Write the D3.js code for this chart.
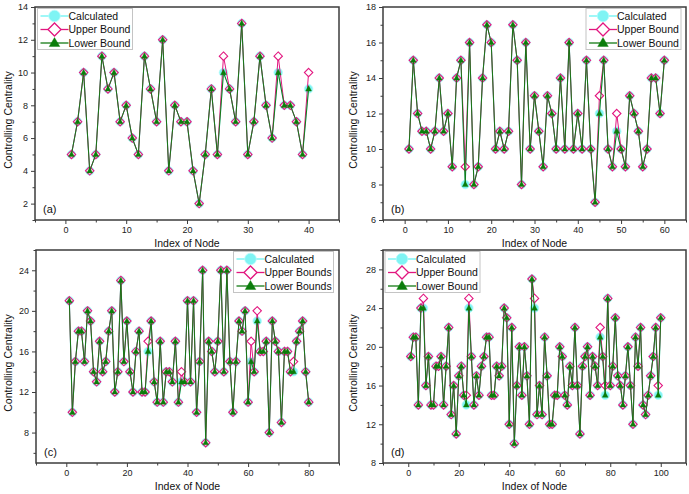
<!DOCTYPE html>
<html><head><meta charset="utf-8">
<script src="https://cdn.jsdelivr.net/npm/d3@7/dist/d3.min.js"></script>
<style>
body{margin:0;background:#fff;}
svg{display:block;font-family:"Liberation Sans",Arial,sans-serif;}
</style></head><body>
<svg id="chart" width="689" height="494"></svg>
<script>
// ---------- DATA ----------
const nodesA = d3.range(1, 41);
const calcA  = [5,7,10,4,5,11,9,10,7,8,6,5,11,9,7,12,4,8,7,7,4,2,5,9,5,10,9,7,13,5,7,11,8,6,10,8,8,7,5,9];
const upperA = [5,7,10,4,5,11,9,10,7,8,6,5,11,9,7,12,4,8,7,7,4,2,5,9,5,11,9,7,13,5,7,11,8,6,11,8,8,7,5,10];
const lowerA = [5,7,10,4,5,11,9,10,7,8,6,5,11,9,7,12,4,8,7,7,4,2,5,9,5,10,9,7,13,5,7,11,8,6,10,8,8,7,5,9];

const nodesB = d3.range(1, 61);
const calcB  = [10,15,12,11,11,10,11,14,11,12,9,14,15,8,16,8,9,14,17,16,10,11,10,11,17,15,8,16,10,13,11,9,13,12,10,14,10,16,10,12,10,15,10,7,12,15,10,9,11,10,9,13,12,11,9,10,14,14,12,15];
const upperB = [10,15,12,11,11,10,11,14,11,12,9,14,15,9,16,8,9,14,17,16,10,11,10,11,17,15,8,16,10,13,11,9,13,12,10,14,10,16,10,12,10,15,10,7,13,15,10,9,12,10,9,13,12,11,9,10,14,14,12,15];
const lowerB = [10,15,12,11,11,10,11,14,11,12,9,14,15,8,16,8,9,14,17,16,10,11,10,11,17,15,8,16,10,13,11,9,13,12,10,14,10,16,10,12,10,15,10,7,12,15,10,9,11,10,9,13,12,11,9,10,14,14,12,15];

const nodesC = d3.range(1, 81);
const calcC  = [21,10,15,18,18,15,20,19,14,13,17,14,15,18,20,12,14,23,15,19,14,12,16,18,12,12,16,19,13,11,17,11,14,14,13,17,11,13,13,21,13,21,10,15,24,7,17,16,14,17,24,14,24,15,10,15,19,18,20,11,15,14,19,16,16,17,8,19,17,16,9,16,16,14,14,17,18,19,14,11];
const upperC = [21,10,15,18,18,15,20,19,14,13,17,14,15,18,20,12,14,23,15,19,14,12,16,18,12,12,17,19,13,11,17,11,14,14,13,17,11,14,13,21,13,21,10,15,24,7,17,16,14,17,24,14,24,15,10,15,19,18,20,11,17,14,20,16,16,17,8,19,17,16,9,16,16,14,15,17,18,19,14,11];
const lowerC = [21,10,15,18,18,15,20,19,14,13,17,14,15,18,20,12,14,23,15,19,14,12,16,18,12,12,16,19,13,11,17,11,14,14,13,17,11,13,13,21,13,21,10,15,24,7,17,16,14,17,24,14,24,15,10,15,19,18,20,11,15,14,19,16,16,17,8,19,17,16,9,16,16,14,14,17,18,19,14,11];

const nodesD = d3.range(1, 101);
const calcD  = [19,21,21,14,24,24,16,19,14,14,18,18,19,14,18,22,13,16,11,17,18,15,14,24,19,14,17,15,18,19,21,21,15,15,18,17,18,24,23,12,22,10,16,20,15,20,17,12,27,24,13,16,13,21,17,12,12,15,15,20,19,15,14,18,16,22,16,11,18,19,20,15,19,18,16,21,19,15,25,16,18,23,17,16,14,17,20,16,12,21,18,22,14,13,15,17,19,22,15,23];
const upperD = [19,21,21,14,24,25,16,19,14,14,18,18,19,14,18,22,13,16,11,17,18,15,15,25,19,14,17,15,18,19,21,21,15,15,18,17,18,24,23,12,22,10,16,20,15,20,17,12,27,25,13,16,13,21,17,12,12,15,15,20,19,15,14,18,16,22,16,11,18,19,20,15,19,18,16,22,19,16,25,16,18,23,17,16,14,17,20,16,12,21,18,22,14,13,15,17,19,22,16,23];
const lowerD = [19,21,21,14,24,24,16,19,14,14,18,18,19,14,18,22,13,16,11,17,18,15,14,24,19,14,17,15,18,19,21,21,15,15,18,17,18,24,23,12,22,10,16,20,15,20,17,12,27,24,13,16,13,21,17,12,12,15,15,20,19,15,14,18,16,22,16,11,18,19,20,15,19,18,16,21,19,15,25,16,18,23,17,16,14,17,20,16,12,21,18,22,14,13,15,17,19,22,15,23];

const xMajorA = [0,10,20,30,40],      xMinorA = [-5,5,15,25,35,45];
const yMajorA = [2,4,6,8,10,12,14],   yMinorA = [1,3,5,7,9,11,13];
const xMajorB = [0,10,20,30,40,50,60], xMinorB = [-5,5,15,25,35,45,55,65];
const yMajorB = [6,8,10,12,14,16,18], yMinorB = [7,9,11,13,15,17];
const xMajorC = [0,20,40,60,80],      xMinorC = [-10,10,30,50,70,90];
const yMajorC = [8,12,16,20,24],      yMinorC = [6,10,14,18,22,26];
const xMajorD = [0,20,40,60,80,100],  xMinorD = [-10,10,30,50,70,90,110];
const yMajorD = [8,12,16,20,24,28],   yMinorD = [10,14,18,22,26,30];

const legendAB = ["Calculated", "Upper Bound", "Lower Bound"];
const legendC  = ["Calculated", "Upper Bounds", "Lower Bounds"];
const legendD  = ["Calculated", "Upper Bound", "Lower Bound"];
const panelLabels = ["(a)", "(b)", "(c)", "(d)"];
const xTitle = "Index of Node", yTitle = "Controlling Centrality";

// ---------- STYLE ----------
const COL_CALC = "#7ff4f4", COL_UP = "#e2167f", COL_LOW = "#0b7d0b", COL_LOWLINE = "#157a15";
const AXIS = "#3c3c3c";

const panels = [
  {nodes:nodesA, series:[calcA,upperA,lowerA], xd:[-5,45], yd:[1,14], xM:xMajorA, xm:xMinorA, yM:yMajorA, ym:yMinorA,
   box:[35,7,304,213], label:panelLabels[0], leg:legendAB, legX:37.5, ytx:12},
  {nodes:nodesB, series:[calcB,upperB,lowerB], xd:[-5,65], yd:[6,18], xM:xMajorB, xm:xMinorB, yM:yMajorB, ym:yMinorB,
   box:[383,7,303,213], label:panelLabels[1], leg:legendAB, legX:586, ytx:357},
  {nodes:nodesC, series:[calcC,upperC,lowerC], xd:[-10,90], yd:[5,26], xM:xMajorC, xm:xMinorC, yM:yMajorC, ym:yMinorC,
   box:[36,250,303,213], label:panelLabels[2], leg:legendC, legX:233.5, ytx:12},
  {nodes:nodesD, series:[calcD,upperD,lowerD], xd:[-10,110], yd:[8,30], xM:xMajorD, xm:xMinorD, yM:yMajorD, ym:yMinorD,
   box:[383,250,303,213], label:panelLabels[3], leg:legendD, legX:385, ytx:357}
];

const svg = d3.select("#chart");
svg.append("rect").attr("width",689).attr("height",494).attr("fill","#fff");

const diamond = r => `M0,${-r}L${r},0L0,${r}L${-r},0Z`;
const tri = (h, w, b) => `M0,${-h}L${w},${b}L${-w},${b}Z`;

function marker(sel, kind, big){
  if(kind===0){
    sel.append("circle").attr("r", big?5.8:4.3).attr("fill",COL_CALC).attr("stroke","#b8fbfb").attr("stroke-width",0.8);
  } else if(kind===1){
    sel.append("path").attr("d", diamond(big?6.5:4.2)).attr("fill","#fff").attr("stroke",COL_UP).attr("stroke-width",big?1.3:1.1);
  } else {
    sel.append("path").attr("d", big?tri(5.5,5.3,3.5):tri(3.3,2.9,2.1)).attr("fill",COL_LOW).attr("stroke",COL_LOW).attr("stroke-width",0.4);
  }
}

function styleAxis(g){
  g.select(".domain").remove();
  g.selectAll(".tick line").attr("stroke",AXIS).attr("stroke-width",1);
  g.selectAll(".tick text").attr("fill","#222").style("font-size","9px");
}

panels.forEach(p=>{
  const [L,T,W,H] = p.box;
  const x = d3.scaleLinear().domain(p.xd).range([L, L+W]);
  const y = d3.scaleLinear().domain(p.yd).range([T+H, T]);
  const g = svg.append("g");

  // axes
  g.append("g").attr("transform",`translate(0,${T+H})`)
    .call(d3.axisBottom(x).tickValues(p.xM).tickSize(4).tickPadding(3).tickFormat(d3.format("d"))).call(styleAxis);
  g.append("g").attr("transform",`translate(0,${T+H})`)
    .call(d3.axisBottom(x).tickValues(p.xm).tickSize(2.5).tickFormat("")).call(styleAxis);
  g.append("g").attr("transform",`translate(${L},0)`)
    .call(d3.axisLeft(y).tickValues(p.yM).tickSize(4).tickPadding(3).tickFormat(d3.format("d"))).call(styleAxis);
  g.append("g").attr("transform",`translate(${L},0)`)
    .call(d3.axisLeft(y).tickValues(p.ym).tickSize(2.5).tickFormat("")).call(styleAxis);

  // series
  const colors = [COL_CALC, COL_UP, COL_LOWLINE];
  p.series.forEach((vals, k)=>{
    const line = d3.line().x((d,i)=>x(p.nodes[i])).y(d=>y(d));
    g.append("path").datum(vals).attr("d",line).attr("fill","none")
      .attr("stroke",colors[k]).attr("stroke-width", k===0?1.2:1);
    const m = g.append("g").selectAll("g").data(vals).join("g")
      .attr("transform",(d,i)=>`translate(${x(p.nodes[i])},${y(d)})`);
    marker(m, k, false);
  });

  // frame
  g.append("rect").attr("x",L).attr("y",T).attr("width",W).attr("height",H)
    .attr("fill","none").attr("stroke",AXIS).attr("stroke-width",1.5);

  // panel label
  g.append("text").attr("x",L+8).attr("y",T+H-7).text(p.label)
    .style("font-size","11px").attr("fill","#111");

  // titles
  g.append("text").attr("x",L+W/2).attr("y",T+H+26.5).attr("text-anchor","middle")
    .style("font-size","10.5px").attr("fill","#111").text(xTitle);
  g.append("text").attr("transform",`translate(${p.ytx},${T+113}) rotate(-90)`).attr("text-anchor","middle")
    .style("font-size","10.5px").attr("fill","#111").text(yTitle);

  // legend
  const lx = p.legX, ly = T+1.5;
  const lg = g.append("g");
  const textW = d3.max(p.leg, s=>s.length)*5.6;
  lg.append("rect").attr("x",lx).attr("y",ly).attr("width", p.leg[1].length>11?100:95).attr("height",41)
    .attr("fill","#fff").attr("stroke","#c4c4c4").attr("stroke-width",1);
  p.leg.forEach((name,k)=>{
    const cy = ly + 7.5 + k*13.5, cx = lx + 17;
    lg.append("line").attr("x1",cx-14).attr("x2",cx+14).attr("y1",cy).attr("y2",cy)
      .attr("stroke",colors[k]).attr("stroke-width",k===0?1.5:1.3);
    const mg = lg.append("g").attr("transform",`translate(${cx},${cy})`);
    marker(mg, k, true);
    lg.append("text").attr("x",lx+31).attr("y",cy).attr("dy","0.36em")
      .style("font-size","10.5px").attr("fill","#111").text(name);
  });
});
</script>
</body></html>
